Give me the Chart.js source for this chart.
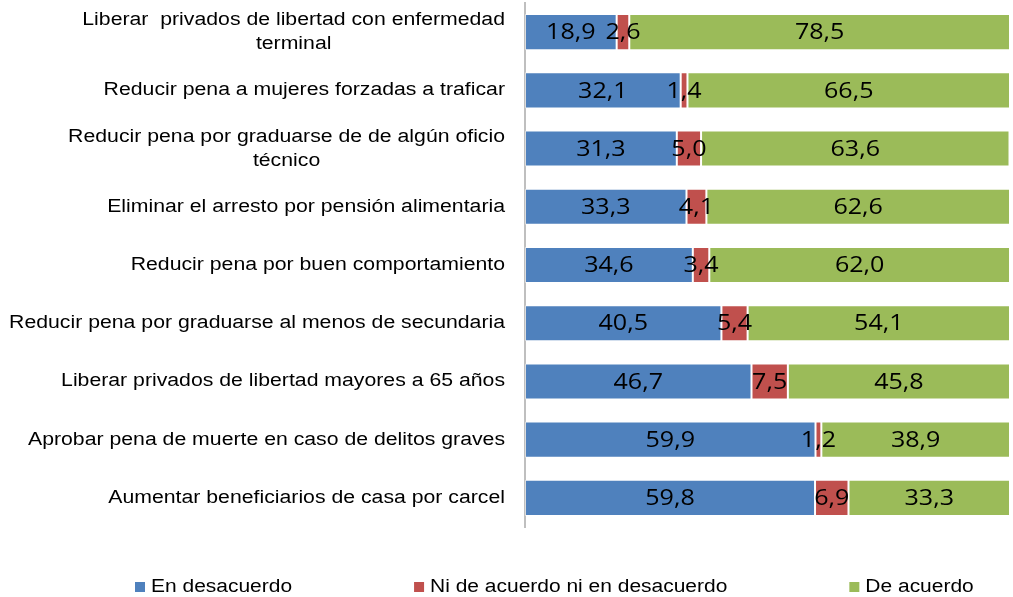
<!DOCTYPE html>
<html>
<head>
<meta charset="utf-8">
<script src="https://cdn.jsdelivr.net/npm/chart.js@4.4.1/dist/chart.umd.min.js"></script>
<style>
  html, body { margin: 0; padding: 0; background: #ffffff; }
  #wrap { width: 1013px; height: 597px; position: relative; }
</style>
</head>
<body>
<div id="wrap"><canvas id="c" width="1013" height="597"></canvas></div>
<script>
const categories = [
  ["Liberar  privados de libertad con enfermedad", "terminal"],
  "Reducir pena a mujeres forzadas a traficar",
  ["Reducir pena por graduarse de de algún oficio", "técnico"],
  "Eliminar el arresto por pensión alimentaria",
  "Reducir pena por buen comportamiento",
  "Reducir pena por graduarse al menos de secundaria",
  "Liberar privados de libertad mayores a 65 años",
  "Aprobar pena de muerte en caso de delitos graves",
  "Aumentar beneficiarios de casa por carcel"
];
const seriesNames = ["En desacuerdo", "Ni de acuerdo ni en desacuerdo", "De acuerdo"];
const enDesacuerdo = [18.9, 32.1, 31.3, 33.3, 34.6, 40.5, 46.7, 59.9, 59.8];
const niNi = [2.6, 1.4, 5.0, 4.1, 3.4, 5.4, 7.5, 1.2, 6.9];
const deAcuerdo = [78.5, 66.5, 63.6, 62.6, 62.0, 54.1, 45.8, 38.9, 33.3];
const colors = ["#4F81BD", "#C0504D", "#9BBB59"];

const LABEL_FONT = '18px "Liberation Sans", Arial, sans-serif';
const VALUE_FONT = '22px "Open Sans", sans-serif';
const LABEL_SX = 1.18;
const LEGEND_SX = 1.165;
const VALUE_SX = 1.14;

const fmt = v => v.toFixed(1).replace('.', ',');

function stretchedText(ctx, text, x, y, sx, align) {
  const w = ctx.measureText(text).width * sx;
  let left = x;
  if (align === 'center') left = x - w / 2;
  else if (align === 'right') left = x - w;
  ctx.save();
  ctx.textAlign = 'left';
  ctx.translate(left, y);
  ctx.scale(sx, 1);
  ctx.fillText(text, 0, 0);
  ctx.restore();
  return w;
}

const valueLabels = {
  id: 'valueLabels',
  afterDatasetsDraw(chart) {
    const ctx = chart.ctx;
    ctx.save();
    ctx.font = VALUE_FONT;
    ctx.fillStyle = '#000';
    ctx.textBaseline = 'middle';
    chart.data.datasets.forEach((ds, di) => {
      const meta = chart.getDatasetMeta(di);
      meta.data.forEach((bar, i) => {
        const cx = (bar.x + bar.base) / 2;
        stretchedText(ctx, fmt(ds.data[i]), cx, bar.y + 1, VALUE_SX, 'center');
      });
    });
    ctx.restore();
  }
};

const catLabels = {
  id: 'catLabels',
  afterDraw(chart) {
    const ctx = chart.ctx;
    const scale = chart.scales.y;
    const right = chart.chartArea.left - 20;
    const lh = 24;
    ctx.save();
    ctx.font = LABEL_FONT;
    ctx.fillStyle = '#000';
    ctx.textBaseline = 'middle';
    chart.data.labels.forEach((lab, i) => {
      const lines = Array.isArray(lab) ? lab : [lab];
      const w = Math.max(...lines.map(l => ctx.measureText(l).width)) * LABEL_SX;
      const cx = right - w / 2;
      const y0 = scale.getPixelForTick(i) - (lines.length - 1) * lh / 2;
      lines.forEach((l, k) => stretchedText(ctx, l, cx, y0 + k * lh, LABEL_SX, 'center'));
    });
    ctx.restore();
  }
};

const bottomLegend = {
  id: 'bottomLegend',
  afterDraw(chart) {
    const ctx = chart.ctx;
    ctx.save();
    ctx.font = LABEL_FONT;
    ctx.textBaseline = 'middle';
    const box = 10, gapBox = 6, gap = 122;
    let x = 135;
    const y = 587;
    chart.data.datasets.forEach(ds => {
      ctx.fillStyle = ds.backgroundColor;
      ctx.fillRect(x, y - 5, box, box);
      ctx.fillStyle = '#000';
      const tw = stretchedText(ctx, ds.label, x + box + gapBox, y, LEGEND_SX, 'left');
      x += box + gapBox + tw + gap;
    });
    ctx.restore();
  }
};

const seriesData = [enDesacuerdo, niNi, deAcuerdo];

new Chart(document.getElementById('c'), {
  type: 'bar',
  data: {
    labels: categories,
    datasets: seriesNames.map((n, k) => ({
      label: n,
      data: seriesData[k],
      backgroundColor: colors[k],
      borderColor: 'rgba(255,255,255,0.45)',
      borderWidth: 1,
      borderSkipped: false,
      categoryPercentage: 1,
      barPercentage: 0.62
    }))
  },
  options: {
    indexAxis: 'y',
    responsive: false,
    animation: false,
    devicePixelRatio: 1,
    layout: { padding: { top: 3, right: 3, bottom: 70, left: 0 } },
    plugins: {
      legend: { display: false },
      tooltip: { enabled: false }
    },
    scales: {
      x: {
        stacked: true,
        min: 0,
        max: 100,
        display: false
      },
      y: {
        stacked: true,
        grid: { display: false, drawTicks: false },
        border: { display: true, color: '#BFBFBF', width: 2 },
        ticks: { display: false },
        afterFit(scale) { scale.width = 525; }
      }
    }
  },
  plugins: [valueLabels, catLabels, bottomLegend]
});
</script>
</body>
</html>
